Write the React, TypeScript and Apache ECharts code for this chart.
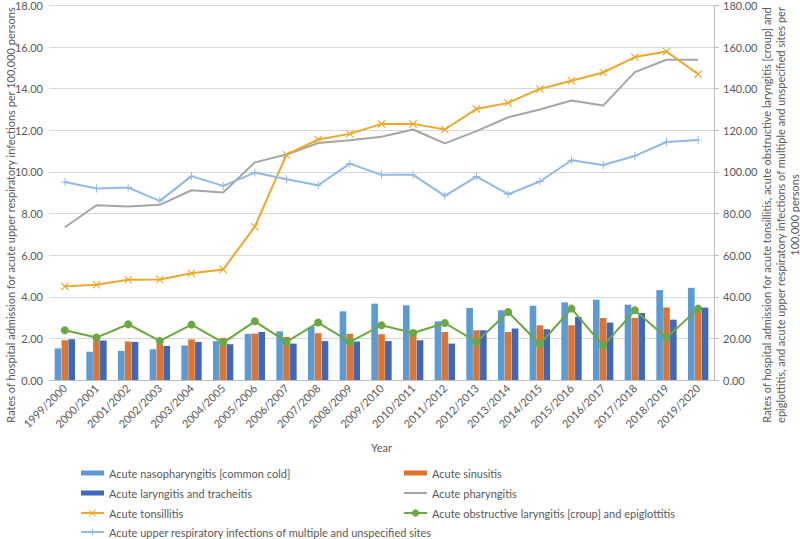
import React, { useEffect, useRef } from "react";
import * as echarts from "echarts";

const years = ["1999/2000","2000/2001","2001/2002","2002/2003","2003/2004","2004/2005","2005/2006","2006/2007","2007/2008","2008/2009","2009/2010","2010/2011","2011/2012","2012/2013","2013/2014","2014/2015","2015/2016","2016/2017","2017/2018","2018/2019","2019/2020"];

// left axis series
const nasopharyngitis = [1.52,1.36,1.40,1.48,1.66,1.87,2.22,2.34,2.55,3.30,3.67,3.59,2.82,3.46,3.35,3.57,3.73,3.86,3.62,4.32,4.43];
const sinusitis = [1.91,1.97,1.85,1.74,1.95,2.02,2.23,2.07,2.25,2.22,2.20,2.39,2.31,2.39,2.31,2.63,2.63,2.98,2.98,3.49,3.46];
const laryngitis = [1.96,1.90,1.83,1.64,1.83,1.72,2.31,1.75,1.87,1.85,1.87,1.91,1.75,2.39,2.47,2.44,3.03,2.76,3.22,2.90,3.48];
const pharyngitis = [7.34,8.40,8.34,8.42,9.12,9.01,10.46,10.84,11.39,11.52,11.69,12.04,11.37,11.96,12.63,13.00,13.43,13.19,14.80,15.39,15.39];

// right axis series
const tonsillitis = [45.0,45.8,48.2,48.3,51.3,53.1,73.7,108.3,115.6,118.3,123.1,123.1,120.4,130.3,133.2,139.9,143.8,147.8,155.2,157.9,147.0];
const croup = [23.9,20.4,26.8,18.8,26.6,18.0,28.2,18.3,27.6,18.3,26.3,22.6,27.4,18.3,32.7,17.2,34.3,16.4,33.5,20.3,34.3];
const urti = [95.2,92.0,92.5,86.1,98.0,93.3,99.7,96.5,93.6,104.0,98.6,98.6,88.5,97.8,89.3,95.4,105.6,103.3,107.7,114.4,115.3];

const names = {
  naso: "Acute nasopharyngitis [common cold]",
  sin: "Acute sinusitis",
  lar: "Acute laryngitis and tracheitis",
  pha: "Acute pharyngitis",
  ton: "Acute tonsillitis",
  cro: "Acute obstructive laryngitis [croup] and epiglottitis",
  urt: "Acute upper respiratory infections of multiple and unspecified sites",
};

const leftTitle = "Rates of hospital admission for acute upper respiratory infections per 100,000 persons";
const rightTitle = "Rates of hospital admission for acute tonsillitis, acute obstructive laryngitis [croup] and\nepiglottitis, and acute upper respiratory infections of multiple and unspecified sites per\n100,000 persons";

const FONT = "Lato";
const TXT = "#595959";
const X_SYMBOL = "path://M0,1 L1,0 L5,4 L9,0 L10,1 L6,5 L10,9 L9,10 L5,6 L1,10 L0,9 L4,5 Z";
const PLUS_SYMBOL = "path://M4.4,0 H5.6 V4.4 H10 V5.6 H5.6 V10 H4.4 V5.6 H0 V4.4 H4.4 Z";
// thin bar icon inside a 23x9 box (tiny corner subpaths keep the bounding box)
const BAR_ICON = "path://M0,0 L0.05,0 L0,0.05 Z M0,2 H23 V7 H0 Z M23,9 L22.95,9 L23,8.95 Z";

export default function App() {
  const ref = useRef<HTMLDivElement>(null);
  useEffect(() => {
    if (!ref.current) return;
    const chart = echarts.init(ref.current, null, { renderer: "svg" });
    const legendText = { fontFamily: FONT, fontSize: 11, color: TXT, lineHeight: 12 };
    const legendBase = { orient: "vertical", padding: 0, itemWidth: 23, itemHeight: 9, itemGap: 8, textStyle: legendText };
    chart.setOption({
      animation: false,
      textStyle: { fontFamily: FONT },
      grid: { left: 49, right: 86, top: 4, bottom: 159, containLabel: false },
      xAxis: {
        type: "category",
        data: years,
        name: "Year",
        nameLocation: "middle",
        nameGap: 62,
        nameTextStyle: { fontFamily: FONT, fontSize: 11, color: TXT },
        axisLine: { lineStyle: { color: "#BFBFBF" } },
        axisTick: { show: false },
        axisLabel: { rotate: 45, interval: 0, fontFamily: FONT, fontSize: 11, color: TXT, margin: 6 },
      },
      yAxis: [
        {
          type: "value", min: 0, max: 18, interval: 2,
          axisLine: { show: false }, axisTick: { show: false },
          splitLine: { lineStyle: { color: "#D9D9D9" } },
          axisLabel: { formatter: (v: number) => v.toFixed(2), fontFamily: FONT, fontSize: 11, color: TXT, margin: 6 },
        },
        {
          type: "value", min: 0, max: 180, interval: 20, position: "right",
          axisLine: { show: true, lineStyle: { color: "#BFBFBF" } },
          axisTick: { show: true, inside: false, length: 5, lineStyle: { color: "#BFBFBF" } },
          splitLine: { show: false },
          axisLabel: { formatter: (v: number) => v.toFixed(2), fontFamily: FONT, fontSize: 11, color: TXT, margin: 9 },
        },
      ],
      legend: [
        {
          ...legendBase, left: 80, top: 467,
          data: [
            { name: names.naso, icon: BAR_ICON },
            { name: names.lar, icon: BAR_ICON },
            names.ton,
          ],
        },
        {
          ...legendBase, left: 80, top: 526,
          data: [names.urt],
        },
        {
          ...legendBase, left: 403, top: 467,
          data: [
            { name: names.sin, icon: BAR_ICON },
            { name: names.pha, itemStyle: { opacity: 0 } },
            names.cro,
          ],
        },
      ],
      series: [
        { name: names.naso, type: "bar", yAxisIndex: 0, data: nasopharyngitis, barWidth: 6.6, barGap: "4%", itemStyle: { color: "#5B9BD5" } },
        { name: names.sin, type: "bar", yAxisIndex: 0, data: sinusitis, barWidth: 6.6, barGap: "4%", itemStyle: { color: "#DF7430" } },
        { name: names.lar, type: "bar", yAxisIndex: 0, data: laryngitis, barWidth: 6.6, barGap: "4%", itemStyle: { color: "#4068B8" } },
        { name: names.pha, type: "line", yAxisIndex: 0, data: pharyngitis, showSymbol: false, symbol: "none", lineStyle: { color: "#A5A5A5", width: 2 }, itemStyle: { color: "#A5A5A5" } },
        { name: names.ton, type: "line", yAxisIndex: 1, data: tonsillitis, symbol: X_SYMBOL, symbolSize: 8, lineStyle: { color: "#EBA92A", width: 2 }, itemStyle: { color: "#EBA92A" } },
        { name: names.cro, type: "line", yAxisIndex: 1, data: croup, symbol: "circle", symbolSize: 8, lineStyle: { color: "#6BA842", width: 2 }, itemStyle: { color: "#6BA842" } },
        { name: names.urt, type: "line", yAxisIndex: 1, data: urti, symbol: PLUS_SYMBOL, symbolSize: 8, lineStyle: { color: "#92B8E6", width: 2 }, itemStyle: { color: "#92B8E6" } },
      ],
      graphic: [
        {
          type: "text", x: 10, y: 215, rotation: Math.PI / 2,
          style: { text: leftTitle, align: "center", verticalAlign: "middle", fontFamily: FONT, fontSize: 11, fill: TXT },
        },
        {
          type: "text", x: 780, y: 215, rotation: Math.PI / 2,
          style: { text: rightTitle, align: "center", verticalAlign: "middle", fontFamily: FONT, fontSize: 11, lineHeight: 14, fill: TXT },
        },
      ],
    });
    return () => chart.dispose();
  }, []);
  return <div ref={ref} style={{ width: 800, height: 539, position: "absolute", left: 0, top: 0 }} />;
}
